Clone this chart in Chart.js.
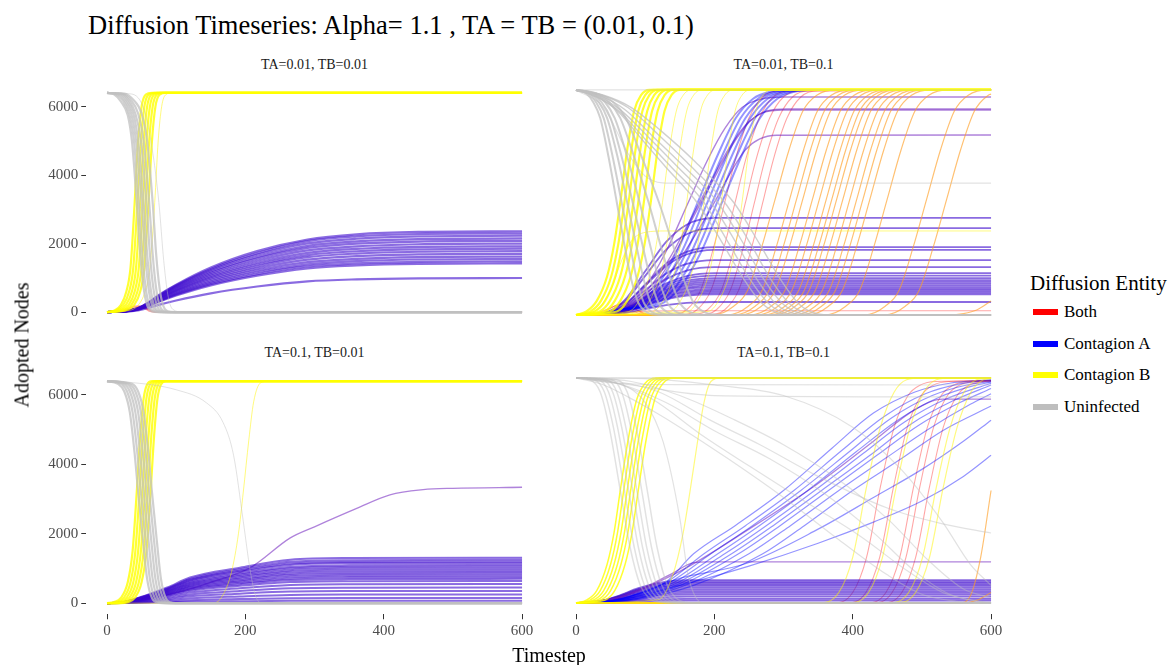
<!DOCTYPE html>
<html>
<head>
<meta charset="utf-8">
<title>Diffusion Timeseries</title>
<script src="https://cdn.jsdelivr.net/npm/chart.js@4.4.1/dist/chart.umd.min.js"></script>
<style>
body { margin: 0; background: #fff; }
#page { position: relative; width: 1174px; height: 665px; overflow: hidden; font-family: "Liberation Serif", "Times New Roman", serif; color: #000; }
canvas, .txt { position: absolute; }
#title { left: 88px; top: 9px; font-size: 26.5px; line-height: 32px; white-space: nowrap; }
.strip { font-size: 14px; line-height: 18px; text-align: center; color: #1a1a1a; }
#ylab { left: 22px; top: 345px; font-size: 20px; white-space: nowrap; transform: translate(-50%, -50%) rotate(-90deg); }
#xlab { left: 549px; top: 655px; font-size: 20px; white-space: nowrap; transform: translate(-50%, -50%); }
#legend { left: 1030px; top: 270px; }
#legend .head { font-size: 21px; line-height: 26px; white-space: nowrap; }
#legend .item { position: relative; height: 31.5px; font-size: 17px; line-height: 31.5px; padding-left: 34px; white-space: nowrap; }
#legend .key { position: absolute; left: 3px; top: 13px; width: 25px; height: 6px; }
</style>
</head>
<body>
<div id="page">
  <div class="txt" id="title">Diffusion Timeseries: Alpha= 1.1 , TA = TB = (0.01, 0.1)</div>
  <div class="txt strip" style="left:86px;top:56px;width:457px">TA=0.01, TB=0.01</div>
  <div class="txt strip" style="left:555px;top:56px;width:457px">TA=0.01, TB=0.1</div>
  <div class="txt strip" style="left:86px;top:344px;width:457px">TA=0.1, TB=0.01</div>
  <div class="txt strip" style="left:555px;top:344px;width:457px">TA=0.1, TB=0.1</div>
  <canvas id="tl" width="557" height="265" style="left:0;top:70px"></canvas>
  <canvas id="tr" width="478" height="265" style="left:548px;top:70px"></canvas>
  <canvas id="bl" width="557" height="300" style="left:0;top:358px"></canvas>
  <canvas id="br" width="478" height="300" style="left:548px;top:358px"></canvas>
  <div class="txt" id="ylab">Adopted Nodes</div>
  <div class="txt" id="xlab">Timestep</div>
  <div class="txt" id="legend">
    <div class="head">Diffusion Entity</div>
    <div class="item"><span class="key" style="background:#ff0000"></span>Both</div>
    <div class="item"><span class="key" style="background:#0000ff"></span>Contagion A</div>
    <div class="item"><span class="key" style="background:#ffff00"></span>Contagion B</div>
    <div class="item"><span class="key" style="background:#bebebe"></span>Uninfected</div>
  </div>
</div>
<script>
// axis ticks
var xTicks = [0, 200, 400, 600];
var yTicks = [0, 2000, 4000, 6000];

// curves are [t, nodes, t, nodes, ...]

// ---- TA=0.01, TB=0.01
var tlGrey = [
  [0,6400, 10,6360, 20,6150, 30,5750, 36,5000, 43,3200, 48,1700, 53,700, 58,200, 65,20, 75,0, 600,0],
  [0,6400, 12,6370, 22,6200, 32,5800, 39,5000, 46,3200, 51,1700, 56,700, 61,200, 68,20, 78,0, 600,0],
  [0,6400, 15,6370, 25,6200, 35,5800, 42,5000, 50,3200, 55,1700, 60,700, 65,200, 72,20, 82,0, 600,0],
  [0,6400, 18,6370, 28,6200, 38,5800, 45,5000, 53,3200, 58,1700, 63,700, 68,200, 75,20, 85,0, 600,0],
  [0,6400, 20,6380, 31,6200, 41,5800, 49,5000, 57,3200, 62,1700, 67,700, 72,200, 79,20, 88,0, 600,0],
  [0,6400, 22,6380, 34,6200, 45,5800, 53,5000, 61,3200, 66,1700, 71,700, 76,200, 83,20, 92,0, 600,0],
  [0,6400, 25,6380, 38,6200, 50,5800, 58,5000, 66,3200, 71,1700, 76,700, 81,200, 88,20, 98,0, 600,0]
];
var tlGreyThin = [
  [0,6400, 30,6380, 50,6100, 65,4800, 75,3200, 82,1500, 88,500, 95,80, 110,0, 600,0]
];
var tlYellow = [
  [0,0, 10,40, 20,200, 28,600, 34,1300, 40,3200, 45,5000, 50,6000, 56,6350, 65,6400, 600,6400],
  [0,0, 12,40, 23,200, 32,600, 38,1300, 44,3200, 49,5000, 54,6000, 60,6350, 69,6400, 600,6400],
  [0,0, 15,40, 27,200, 36,600, 42,1300, 48,3200, 53,5000, 58,6000, 64,6350, 73,6400, 600,6400],
  [0,0, 18,40, 31,200, 40,600, 46,1300, 52,3200, 57,5000, 62,6000, 68,6350, 77,6400, 600,6400],
  [0,0, 21,40, 35,200, 44,600, 50,1300, 56,3200, 61,5000, 66,6000, 72,6350, 81,6400, 600,6400],
  [0,0, 24,40, 39,200, 48,600, 54,1300, 60,3200, 65,5000, 70,6000, 76,6350, 85,6400, 600,6400]
];
var tlYellowThin = [
  [0,0, 30,40, 45,200, 55,600, 62,1300, 69,3200, 74,5000, 79,6000, 85,6350, 94,6400, 600,6400]
];
var tlBlueT = [0, 25, 45, 60, 75, 100, 150, 217, 290, 361, 450, 600];
var tlBlue = [
  [0,25,120,280,500,800,1300,1780,2120,2270,2340,2360],
  [0,23,115,275,480,780,1260,1720,2070,2210,2280,2300],
  [0,22,112,268,468,758,1227,1673,2007,2141,2208,2230],
  [0,22,108,258,452,731,1183,1613,1935,2064,2129,2150],
  [0,21,104,250,437,707,1144,1560,1872,1997,2059,2080],
  [0,20,100,240,420,680,1100,1500,1800,1920,1980,2000],
  [0,19,96,230,403,653,1056,1440,1728,1843,1901,1920],
  [0,19,93,222,389,629,1018,1388,1665,1776,1832,1850],
  [0,18,89,214,374,605,979,1335,1602,1709,1762,1780],
  [0,17,85,204,357,578,935,1275,1530,1632,1683,1700],
  [0,16,81,194,340,551,891,1215,1458,1555,1604,1620],
  [0,16,78,186,326,527,853,1163,1395,1488,1535,1550],
  [0,15,74,178,311,503,814,1110,1332,1421,1465,1480],
  [0,14,71,170,298,483,781,1065,1278,1363,1406,1420],
  [0,10,50,119,209,338,547,746,896,955,985,995]
];
var tlRed = [
  [0,0, 15,30, 30,100, 40,170, 48,180, 55,110, 62,20, 72,0, 600,0],
  [0,0, 20,30, 35,90, 45,150, 52,160, 58,100, 65,20, 75,0, 600,0],
  [0,0, 22,20, 38,80, 50,130, 57,120, 63,60, 70,10, 80,0, 600,0]
];

// ---- TA=0.01, TB=0.1
var trGrey = [
  [0,6400, 15,6300, 25,6050, 35,5600, 47,4500, 59,3200, 70,2000, 80,1000, 90,350, 102,80, 120,0, 600,0],
  [0,6400, 18,6300, 29,6050, 40,5600, 53,4500, 66,3200, 78,2000, 88,1000, 98,350, 110,80, 128,0, 600,0],
  [0,6400, 20,6300, 33,6050, 45,5600, 60,4500, 74,3200, 87,2000, 98,1000, 108,350, 120,80, 140,0, 600,0],
  [0,6400, 22,6300, 37,6050, 50,5600, 66,4500, 82,3200, 96,2000, 108,1000, 119,350, 132,80, 152,0, 600,0],
  [0,6400, 25,6300, 42,6050, 56,5600, 74,4500, 92,3200, 107,2000, 120,1000, 132,350, 146,80, 168,0, 600,0],
  [0,6400, 28,6300, 48,6050, 64,5600, 84,4500, 105,3200, 122,2000, 137,1000, 150,350, 165,80, 190,0, 600,0],
  [0,6400, 30,6300, 54,6050, 72,5600, 95,4500, 120,3200, 140,2000, 156,1000, 170,350, 186,80, 210,0, 600,0]
];
var trGreySlow = [
  [0,6400, 30,6200, 60,5800, 95,5000, 130,4200, 175,3200, 210,2100, 240,1100, 268,350, 295,40, 320,0, 600,0],
  [0,6400, 30,6200, 62,5800, 100,5000, 138,4200, 185,3200, 222,2000, 252,1000, 280,300, 305,40, 330,0, 600,0],
  [0,6400, 32,6220, 65,5820, 105,5050, 145,4250, 195,3200, 233,2000, 262,1000, 290,300, 316,40, 340,0, 600,0],
  [0,6400, 35,6230, 70,5850, 110,5100, 152,4300, 205,3200, 243,2000, 272,1000, 300,300, 326,40, 350,0, 600,0],
  [0,6400, 38,6250, 75,5900, 118,5150, 160,4350, 215,3200, 253,2000, 282,1000, 310,300, 336,40, 360,0, 600,0],
  [0,6400, 40,6250, 80,5900, 125,5200, 170,4400, 228,3200, 266,2000, 296,1000, 323,300, 348,40, 372,0, 600,0]
];
var trGreyFlat = [
  [0,6400, 40,5900, 75,4600, 100,3950, 125,3760, 150,3750, 600,3750],
  [0,6400, 600,6400]
];
var trYellow = [
  [0,0, 15,100, 30,400, 45,1100, 55,2000, 64,3200, 74,4700, 84,5800, 94,6250, 106,6400, 600,6400],
  [0,0, 21,100, 36,400, 51,1100, 61,2000, 70,3200, 80,4700, 90,5800, 100,6250, 112,6400, 600,6400],
  [0,0, 27,100, 42,400, 57,1100, 67,2000, 76,3200, 86,4700, 96,5800, 106,6250, 118,6400, 600,6400],
  [0,0, 34,100, 49,400, 64,1100, 74,2000, 83,3200, 93,4700, 103,5800, 113,6250, 125,6400, 600,6400],
  [0,0, 41,100, 56,400, 71,1100, 81,2000, 90,3200, 100,4700, 110,5800, 120,6250, 132,6400, 600,6400],
  [0,0, 49,100, 64,400, 79,1100, 89,2000, 98,3200, 108,4700, 118,5800, 128,6250, 140,6400, 600,6400],
  [0,0, 59,100, 74,400, 89,1100, 99,2000, 108,3200, 118,4700, 128,5800, 138,6250, 150,6400, 600,6400]
];
var trYellowThin = [
  [0,0, 76,100, 91,400, 106,1100, 116,2000, 125,3200, 135,4700, 145,5800, 155,6250, 167,6400, 600,6400],
  [0,0, 91,100, 106,400, 121,1100, 131,2000, 140,3200, 150,4700, 160,5800, 170,6250, 182,6400, 600,6400],
  [0,0, 111,100, 126,400, 141,1100, 151,2000, 160,3200, 170,4700, 180,5800, 190,6250, 202,6400, 600,6400],
  [0,0, 136,100, 151,400, 166,1100, 176,2000, 185,3200, 195,4700, 205,5800, 215,6250, 227,6400, 600,6400],
  [0,0, 161,100, 176,400, 191,1100, 201,2000, 210,3200, 220,4700, 230,5800, 240,6250, 252,6400, 600,6400],
  [0,0, 191,100, 206,400, 221,1100, 231,2000, 240,3200, 250,4700, 260,5800, 270,6250, 282,6400, 600,6400],
  [0,0, 30,150, 50,700, 65,1500, 80,2100, 100,2350, 130,2390, 600,2390],
  [0,0, 600,0]
];
var trBlue = [
  [0,0, 35,20, 65,150, 86,300, 116,800, 146,1800, 176,3200, 206,4600, 231,5600, 256,6150, 281,6350, 306,6400, 600,6400],
  [0,0, 35,20, 65,150, 93,300, 123,800, 153,1800, 183,3200, 213,4600, 238,5600, 263,6150, 288,6350, 313,6400, 600,6400],
  [0,0, 35,20, 65,150, 100,300, 130,800, 160,1800, 190,3200, 220,4600, 245,5600, 270,6150, 295,6350, 320,6400, 600,6400],
  [0,0, 35,20, 65,150, 107,300, 137,800, 167,1800, 197,3200, 227,4600, 252,5600, 277,6150, 302,6350, 327,6400, 600,6400],
  [0,0, 35,20, 65,150, 114,300, 144,800, 174,1800, 204,3200, 234,4600, 259,5600, 284,6150, 309,6350, 334,6400, 600,6400],
  [0,0, 35,20, 65,150, 121,300, 151,800, 181,1800, 211,3200, 241,4600, 266,5600, 291,6150, 316,6350, 341,6400, 600,6400]
];
var trBlueHigh = [
  [0,0, 40,60, 70,250, 100,800, 130,1800, 160,3100, 190,4400, 215,5300, 240,5900, 270,6150, 300,6200, 600,6200],
  [0,0, 45,60, 75,250, 105,750, 135,1600, 165,2700, 195,3800, 220,4700, 245,5400, 270,5750, 300,5830, 600,5830],
  [0,0, 50,60, 80,260, 110,760, 140,1650, 170,2800, 200,3900, 225,4800, 250,5480, 275,5800, 305,5860, 600,5860],
  [0,0, 50,60, 80,230, 110,650, 140,1300, 170,2200, 200,3200, 225,4100, 245,4700, 265,5000, 290,5110, 600,5120]
];
var trLowT = [0, 40, 70, 100, 130, 160, 200, 600];
var trLow = [
  [0,55,414,1242,2070,2567,2760,2760],
  [0,49,370,1111,1852,2297,2470,2470],
  [0,39,290,868,1448,1795,1930,1930],
  [0,37,278,833,1388,1720,1850,1850],
  [0,31,234,702,1170,1451,1560,1560],
  [0,27,204,612,1020,1265,1360,1360],
  [0,24,178,535,892,1107,1190,1190],
  [0,22,168,504,840,1042,1120,1120],
  [0,21,158,472,788,976,1050,1050],
  [0,20,148,445,742,921,990,990],
  [0,19,141,423,705,874,940,940],
  [0,18,134,400,668,828,890,890],
  [0,17,126,378,630,781,840,840],
  [0,16,118,355,592,735,790,790],
  [0,15,111,333,555,688,740,740],
  [0,14,104,310,518,642,690,690],
  [0,13,96,288,480,595,640,640],
  [0,12,88,265,442,549,590,590],
  [0,7,56,166,278,344,370,370]
];
var trRed = [
  [0,0, 30,50, 50,200, 65,300, 75,200, 90,50, 110,0, 600,0],
  [0,0, 35,40, 55,250, 70,350, 82,220, 95,60, 115,0, 600,0],
  [0,0, 40,30, 60,180, 75,260, 88,150, 100,40, 120,0, 600,0],
  [0,0, 60,60, 100,110, 150,120, 600,120],
  [0,0, 135,0, 160,150, 180,700, 200,2000, 215,3200, 230,4400, 250,5600, 270,6200, 295,6380, 600,6400],
  [0,0, 150,0, 175,150, 195,700, 215,2000, 230,3200, 245,4400, 265,5600, 285,6200, 310,6380, 600,6400],
  [0,0, 165,0, 190,150, 210,700, 230,2000, 245,3200, 260,4400, 280,5600, 300,6200, 325,6380, 600,6400],
  [0,0, 178,0, 203,150, 223,700, 243,2000, 258,3200, 273,4400, 293,5600, 313,6200, 338,6380, 600,6400],
  [0,0, 190,0, 215,150, 235,700, 255,2000, 270,3200, 285,4400, 305,5600, 325,6200, 350,6380, 600,6400]
];
var trOrange = [
  [0,0, 198,0, 228,250, 248,700, 268,1900, 288,3300, 308,4700, 328,5800, 348,6250, 378,6400, 600,6400],
  [0,0, 219,0, 249,250, 269,700, 289,1900, 309,3300, 329,4700, 349,5800, 369,6250, 399,6400, 600,6400],
  [0,0, 229,0, 259,250, 279,700, 299,1900, 319,3300, 339,4700, 359,5800, 379,6250, 409,6400, 600,6400],
  [0,0, 238,0, 268,250, 288,700, 308,1900, 328,3300, 348,4700, 368,5800, 388,6250, 418,6400, 600,6400],
  [0,0, 252,0, 282,250, 302,700, 322,1900, 342,3300, 362,4700, 382,5800, 402,6250, 432,6400, 600,6400],
  [0,0, 262,0, 292,250, 312,700, 332,1900, 352,3300, 372,4700, 392,5800, 412,6250, 442,6400, 600,6400],
  [0,0, 272,0, 302,250, 322,700, 342,1900, 362,3300, 382,4700, 402,5800, 422,6250, 452,6400, 600,6400],
  [0,0, 280,0, 310,250, 330,700, 350,1900, 370,3300, 390,4700, 410,5800, 430,6250, 460,6400, 600,6400],
  [0,0, 287,0, 317,250, 337,700, 357,1900, 377,3300, 397,4700, 417,5800, 437,6250, 467,6400, 600,6400],
  [0,0, 296,0, 326,250, 346,700, 366,1900, 386,3300, 406,4700, 426,5800, 446,6250, 476,6400, 600,6400],
  [0,0, 306,0, 336,250, 356,700, 376,1900, 396,3300, 416,4700, 436,5800, 456,6250, 486,6400, 600,6400],
  [0,0, 316,0, 346,250, 366,700, 386,1900, 406,3300, 426,4700, 446,5800, 466,6250, 496,6400, 600,6400],
  [0,0, 325,0, 355,250, 375,700, 395,1900, 415,3300, 435,4700, 455,5800, 475,6250, 505,6400, 600,6400],
  [0,0, 335,0, 365,250, 385,700, 405,1900, 425,3300, 445,4700, 465,5800, 485,6250, 515,6400, 600,6400],
  [0,0, 360,0, 390,250, 410,700, 430,1900, 450,3300, 470,4700, 490,5800, 510,6250, 540,6400, 600,6400],
  [0,0, 417,0, 447,250, 467,700, 487,1900, 507,3300, 527,4700, 547,5800, 567,6250, 597,6400, 600,6400],
  [0,0, 446,0, 476,250, 496,700, 516,1900, 536,3300, 556,4700, 576,5800, 596,6250, 600,6280],
  [0,0, 540,0, 560,40, 580,150, 600,400]
];

// ---- TA=0.1, TB=0.01
var blGrey = [
  [0,6400, 15,6330, 25,6100, 33,5500, 40,4300, 45,3200, 52,1800, 58,700, 65,150, 75,10, 85,0, 600,0],
  [0,6400, 19,6330, 29,6100, 37,5500, 44,4300, 49,3200, 56,1800, 62,700, 69,150, 79,10, 89,0, 600,0],
  [0,6400, 23,6330, 33,6100, 41,5500, 48,4300, 53,3200, 60,1800, 66,700, 73,150, 83,10, 93,0, 600,0],
  [0,6400, 27,6330, 37,6100, 45,5500, 52,4300, 57,3200, 64,1800, 70,700, 77,150, 87,10, 97,0, 600,0],
  [0,6400, 31,6330, 41,6100, 49,5500, 56,4300, 61,3200, 68,1800, 74,700, 81,150, 91,10, 101,0, 600,0],
  [0,6400, 35,6330, 45,6100, 53,5500, 60,4300, 65,3200, 72,1800, 78,700, 85,150, 95,10, 105,0, 600,0]
];
var blGreyThin = [
  [0,6400, 30,6370, 100,6150, 144,5770, 168,5200, 183,4260, 197,2360, 207,940, 215,200, 225,0, 600,0]
];
var blYellow = [
  [0,0, 10,30, 20,150, 30,600, 37,1500, 43,3200, 48,4800, 53,5900, 58,6300, 65,6400, 600,6400],
  [0,0, 4,0, 14,30, 24,150, 34,600, 41,1500, 47,3200, 52,4800, 57,5900, 62,6300, 69,6400, 600,6400],
  [0,0, 8,0, 18,30, 28,150, 38,600, 45,1500, 51,3200, 56,4800, 61,5900, 66,6300, 73,6400, 600,6400],
  [0,0, 12,0, 22,30, 32,150, 42,600, 49,1500, 55,3200, 60,4800, 65,5900, 70,6300, 77,6400, 600,6400],
  [0,0, 16,0, 26,30, 36,150, 46,600, 53,1500, 59,3200, 64,4800, 69,5900, 74,6300, 81,6400, 600,6400],
  [0,0, 20,0, 30,30, 40,150, 50,600, 57,1500, 63,3200, 68,4800, 73,5900, 78,6300, 85,6400, 600,6400]
];
var blYellowThin = [
  [0,0, 150,0, 165,150, 180,900, 190,2000, 197,3200, 205,4700, 212,5800, 222,6350, 235,6400, 600,6400]
];
var blBlueT = [0, 20, 40, 60, 87, 120, 192, 265, 350, 600];
var blBlue = [
  [0,20,120,250,450,740,1020,1250,1300,1310],
  [0,19,112,237,425,700,975,1190,1240,1250],
  [0,18,108,228,408,672,936,1140,1188,1200],
  [0,17,104,220,394,650,905,1102,1148,1160],
  [0,17,99,209,374,616,858,1045,1089,1100],
  [0,16,95,200,357,588,819,998,1040,1050],
  [0,15,90,190,340,560,780,950,990,1000],
  [0,14,86,180,323,532,741,903,941,950],
  [0,14,81,171,306,504,702,855,891,900],
  [0,13,77,162,289,476,663,808,842,850],
  [0,12,72,152,272,448,624,760,792,800],
  [0,11,68,143,255,420,585,713,743,750],
  [0,11,63,133,238,392,546,665,693,700],
  [0,10,58,122,218,358,499,608,634,640],
  [0,8,50,105,187,308,429,523,545,550],
  [0,7,41,86,153,252,351,428,446,450],
  [0,5,32,67,119,196,273,333,347,350],
  [0,4,23,48,85,140,195,238,248,250],
  [0,2,14,29,51,84,117,143,149,150],
  [0,1,6,13,24,39,55,67,69,70]
];
var blBlueHigh = [
  [0,0, 50,80, 100,300, 150,600, 207,1020, 265,1880, 300,2200, 361,2730, 409,3120, 457,3270, 500,3310, 600,3340]
];

// ---- TA=0.1, TB=0.1
var brGrey = [
  [0,6400, 20,6350, 35,6000, 48,5000, 64,3200, 78,1600, 93,500, 105,150, 120,20, 140,0, 600,0],
  [0,6400, 26,6350, 41,6000, 54,5000, 70,3200, 84,1600, 99,500, 111,150, 126,20, 146,0, 600,0],
  [0,6400, 32,6350, 47,6000, 60,5000, 76,3200, 90,1600, 105,500, 117,150, 132,20, 152,0, 600,0],
  [0,6400, 38,6350, 53,6000, 66,5000, 82,3200, 96,1600, 111,500, 123,150, 138,20, 158,0, 600,0],
  [0,6400, 44,6350, 59,6000, 72,5000, 88,3200, 102,1600, 117,500, 129,150, 144,20, 164,0, 600,0],
  [0,6400, 51,6350, 66,6000, 79,5000, 95,3200, 109,1600, 124,500, 136,150, 151,20, 171,0, 600,0],
  [0,6400, 59,6350, 74,6000, 87,5000, 103,3200, 117,1600, 132,500, 144,150, 159,20, 179,0, 600,0]
];
var brGreySlow = [
  [0,6400, 50,6300, 100,5700, 126,4580, 150,2420, 162,800, 172,200, 185,0, 600,0],
  [0,6400, 60,6300, 120,6000, 194,5200, 266,4500, 350,3600, 450,2700, 530,2250, 600,1990],
  [0,6400, 50,6300, 110,5800, 180,4800, 250,3900, 330,2900, 411,1900, 480,900, 530,300, 580,50, 600,0],
  [0,6400, 60,6250, 130,5700, 200,4900, 280,4100, 360,3100, 430,2000, 490,900, 540,250, 590,30, 600,20],
  [0,6400, 80,6300, 150,5900, 230,5200, 300,4500, 380,3500, 450,2400, 510,1200, 560,400, 600,150],
  [0,6400, 40,6200, 90,5700, 150,5000, 220,4100, 300,3000, 380,1800, 450,800, 500,250, 550,50, 600,0],
  [0,6400, 100,6380, 200,6200, 300,5900, 400,5000, 470,3800, 530,2300, 570,1100, 600,500],
  [0,6400, 600,6400],
  [0,6400, 60,6250, 150,6210, 600,6200],
  [0,6400, 80,6200, 200,5900, 600,5860]
];
var brYellow = [
  [0,0, 15,80, 30,350, 45,1100, 55,2000, 64,3200, 75,4600, 88,5800, 100,6250, 115,6400, 600,6400],
  [0,0, 20,80, 35,350, 50,1100, 60,2000, 69,3200, 80,4600, 93,5800, 105,6250, 120,6400, 600,6400],
  [0,0, 25,80, 40,350, 55,1100, 65,2000, 74,3200, 85,4600, 98,5800, 110,6250, 125,6400, 600,6400],
  [0,0, 30,80, 45,350, 60,1100, 70,2000, 79,3200, 90,4600, 103,5800, 115,6250, 130,6400, 600,6400],
  [0,0, 35,80, 50,350, 65,1100, 75,2000, 84,3200, 95,4600, 108,5800, 120,6250, 135,6400, 600,6400],
  [0,0, 41,80, 56,350, 71,1100, 81,2000, 90,3200, 101,4600, 114,5800, 126,6250, 141,6400, 600,6400]
];
var brYellowThin = [
  [0,0, 120,100, 140,800, 155,2000, 165,3200, 175,4500, 185,5700, 195,6300, 210,6400, 600,6400],
  [0,0, 350,0, 380,300, 400,1300, 420,3300, 440,5000, 460,6000, 478,6350, 500,6400, 600,6400],
  [0,0, 393,0, 423,300, 443,1300, 463,3300, 483,5000, 503,6000, 521,6350, 543,6400, 600,6400],
  [0,0, 451,0, 481,300, 501,1300, 521,3300, 541,5000, 561,6000, 579,6350, 600,6400],
  [0,0, 461,0, 491,300, 511,1300, 531,3300, 551,5000, 571,6000, 589,6350, 600,6390],
  [0,0, 600,0]
];
var brRed = [
  [0,0, 370,0, 400,300, 420,1300, 440,3300, 460,5000, 480,5900, 498,6200, 520,6300, 600,6320],
  [0,0, 389,0, 419,300, 439,1300, 459,3300, 479,5000, 499,5900, 517,6200, 539,6300, 600,6320],
  [0,0, 418,0, 448,300, 468,1300, 488,3300, 508,5000, 528,5900, 546,6200, 568,6300, 600,6320],
  [0,0, 427,0, 457,300, 477,1300, 497,3300, 517,5000, 537,5900, 555,6200, 577,6300, 600,6320],
  [0,0, 441,0, 471,300, 491,1300, 511,3300, 531,5000, 551,5900, 569,6200, 591,6300, 600,6310]
];
var brOrange = [
  [0,0, 555,0, 570,200, 585,1300, 600,3200],
  [0,0, 560,0, 580,80, 600,300]
];
var brBlue = [
  [0,0, 40,30, 80,200, 130,600, 170,1400, 230,2200, 300,3200, 370,4400, 430,5400, 490,6000, 540,6250, 600,6350],
  [0,0, 40,30, 80,200, 130,580, 185,1400, 245,2200, 315,3200, 385,4350, 445,5300, 505,5950, 555,6230, 600,6330],
  [0,0, 40,30, 80,190, 135,580, 195,1400, 255,2200, 325,3200, 395,4300, 455,5250, 515,5900, 565,6200, 600,6300],
  [0,0, 45,30, 85,190, 140,570, 205,1400, 265,2200, 335,3200, 405,4300, 465,5200, 525,5850, 575,6180, 600,6280],
  [0,0, 45,30, 90,190, 145,560, 215,1400, 275,2200, 345,3200, 415,4250, 475,5150, 535,5800, 600,6250],
  [0,0, 50,30, 95,180, 150,550, 225,1400, 285,2200, 355,3200, 425,4200, 485,5100, 545,5750, 600,6200],
  [0,0, 50,30, 100,180, 155,540, 235,1400, 295,2200, 365,3200, 435,4200, 495,5050, 555,5700, 600,6100],
  [0,0, 50,30, 100,170, 160,520, 250,1400, 310,2200, 380,3200, 450,4150, 510,4950, 570,5650, 600,5950],
  [0,0, 55,30, 105,160, 170,500, 270,1400, 330,2200, 400,3200, 470,4100, 530,4900, 600,5600],
  [0,0, 60,100, 150,700, 247,1130, 350,2100, 430,3000, 500,3800, 560,4600, 600,5200],
  [0,0, 60,80, 150,500, 250,1050, 350,1700, 430,2300, 500,2900, 560,3600, 600,4200]
];
var brBlueHigh = [
  [0,0, 60,150, 150,900, 250,2100, 350,3400, 430,4600, 490,5500, 530,5800, 600,5800],
  [0,0, 60,150, 100,450, 140,850, 170,1150, 190,1170, 600,1170]
];
var brLowT = [0, 30, 60, 90, 120, 160, 600];
var brLow = [
  [0,33,195,423,572,650,650],
  [0,31,183,397,537,610,610],
  [0,29,171,371,502,570,570],
  [0,27,159,345,466,530,530],
  [0,25,147,319,431,490,490],
  [0,22,132,286,387,440,440],
  [0,20,117,254,343,390,390],
  [0,17,102,221,299,340,340],
  [0,15,87,189,255,290,290],
  [0,12,72,156,211,240,240],
  [0,9,54,117,158,180,180],
  [0,6,36,78,106,120,120],
  [0,4,21,46,62,70,70]
];

var GREY = 'rgba(192,192,192,0.75)';
var GREY_THIN = 'rgba(190,190,190,0.45)';
var YELLOW = 'rgba(255,255,0,0.8)';
var YELLOW_THIN = 'rgba(255,245,0,0.5)';
var BLUE = 'rgba(0,0,255,0.42)';
var VIOLET = 'rgba(60,8,205,0.6)';
var PURPLE = 'rgba(110,30,190,0.55)';
var RED = 'rgba(255,0,0,0.35)';
var ORANGE = 'rgba(255,160,40,0.65)';

function pts(flat) {
  var out = [];
  for (var i = 0; i < flat.length; i += 2) out.push({x: flat[i], y: flat[i + 1]});
  return out;
}

function onGrid(ts, vs) {
  return ts.map(function (t, i) { return {x: t, y: vs[i]}; });
}

function addCurves(list, curves, color, width, order) {
  curves.forEach(function (c) {
    list.push({data: pts(c), borderColor: color, borderWidth: width, order: order});
  });
}

function addGrid(list, ts, rows, color, width, order) {
  rows.forEach(function (r) {
    list.push({data: onGrid(ts, r), borderColor: color, borderWidth: width, order: order});
  });
}

var tickFont = {family: 'Liberation Serif', size: 15};

function makePanel(id, datasets, showX, showY, padding) {
  var xScale = {type: 'linear', min: -30, max: 630, display: showX};
  var yScale = {type: 'linear', min: -320, max: 6720, display: showY};
  if (showX) {
    xScale.afterBuildTicks = function (s) { s.ticks = xTicks.map(function (v) { return {value: v}; }); };
    xScale.afterFit = function (s) { s.height = 40; };
    xScale.grid = {drawOnChartArea: false, drawTicks: true, tickLength: 5, tickColor: '#333333', lineWidth: 1};
    xScale.border = {display: false};
    xScale.ticks = {color: '#4d4d4d', font: tickFont, padding: 3, maxRotation: 0, callback: function (v) { return String(v); }};
  }
  if (showY) {
    yScale.afterBuildTicks = function (s) { s.ticks = yTicks.map(function (v) { return {value: v}; }); };
    yScale.afterFit = function (s) { s.width = 86.25; };
    yScale.grid = {drawOnChartArea: false, drawTicks: true, tickLength: 5, tickColor: '#333333', lineWidth: 1};
    yScale.border = {display: false};
    yScale.ticks = {color: '#4d4d4d', font: tickFont, padding: 3, callback: function (v) { return String(v); }};
  }
  return new Chart(document.getElementById(id), {
    type: 'line',
    data: {datasets: datasets},
    options: {
      responsive: false,
      animation: false,
      events: [],
      layout: {padding: padding},
      plugins: {legend: {display: false}, tooltip: {enabled: false}},
      elements: {
        point: {radius: 0},
        line: {cubicInterpolationMode: 'monotone', fill: false}
      },
      scales: {x: xScale, y: yScale}
    }
  });
}

var tlSets = [];
addCurves(tlSets, tlGrey, GREY, 2.2, 1);
addCurves(tlSets, tlGreyThin, GREY_THIN, 1, 1);
addCurves(tlSets, tlYellow, YELLOW, 2.2, 2);
addCurves(tlSets, tlYellowThin, YELLOW_THIN, 1, 2);
addGrid(tlSets, tlBlueT, tlBlue, VIOLET, 2.2, 4);
addCurves(tlSets, tlRed, RED, 1.5, 6);

var trSets = [];
addCurves(trSets, trGrey, GREY, 2, 1);
addCurves(trSets, trGreySlow, GREY, 1.4, 1);
addCurves(trSets, trGreyFlat, GREY_THIN, 1.2, 1);
addCurves(trSets, trYellow, YELLOW, 2.2, 2);
addCurves(trSets, trYellowThin, YELLOW_THIN, 1, 2);
addCurves(trSets, trOrange, ORANGE, 1.2, 3);
addCurves(trSets, trBlue, BLUE, 2, 4);
addCurves(trSets, trBlueHigh, PURPLE, 1.4, 5);
addGrid(trSets, trLowT, trLow, VIOLET, 1.8, 5);
addCurves(trSets, trRed, RED, 1.1, 6);

var blSets = [];
addCurves(blSets, blGrey, GREY, 2.2, 1);
addCurves(blSets, blGreyThin, GREY_THIN, 1, 1);
addCurves(blSets, blYellow, YELLOW, 2.2, 2);
addCurves(blSets, blYellowThin, YELLOW_THIN, 1, 2);
addGrid(blSets, blBlueT, blBlue, VIOLET, 2, 4);
addCurves(blSets, blBlueHigh, PURPLE, 1.3, 5);

var brSets = [];
addCurves(brSets, brGrey, GREY_THIN, 1.5, 1);
addCurves(brSets, brGreySlow, GREY_THIN, 1.2, 1);
addCurves(brSets, brYellow, YELLOW, 1.5, 2);
addCurves(brSets, brYellowThin, YELLOW_THIN, 1.2, 2);
addCurves(brSets, brOrange, ORANGE, 1.2, 3);
addCurves(brSets, brBlue, BLUE, 1.2, 4);
addCurves(brSets, brBlueHigh, PURPLE, 1.3, 5);
addGrid(brSets, brLowT, brLow, VIOLET, 1.8, 5);
addCurves(brSets, brRed, RED, 1.1, 6);

makePanel('tl', tlSets, false, true, {top: 8.7, bottom: 8.75, left: 0, right: 14.2});
makePanel('tr', trSets, false, false, {top: 8.7, bottom: 8.75, left: 7.25, right: 14.2});
makePanel('bl', blSets, true, true, {top: 8.7, bottom: 3.75, left: 0, right: 14.2});
makePanel('br', brSets, true, false, {top: 8.7, bottom: 3.75, left: 7.25, right: 14.2});
</script>
</body>
</html>
